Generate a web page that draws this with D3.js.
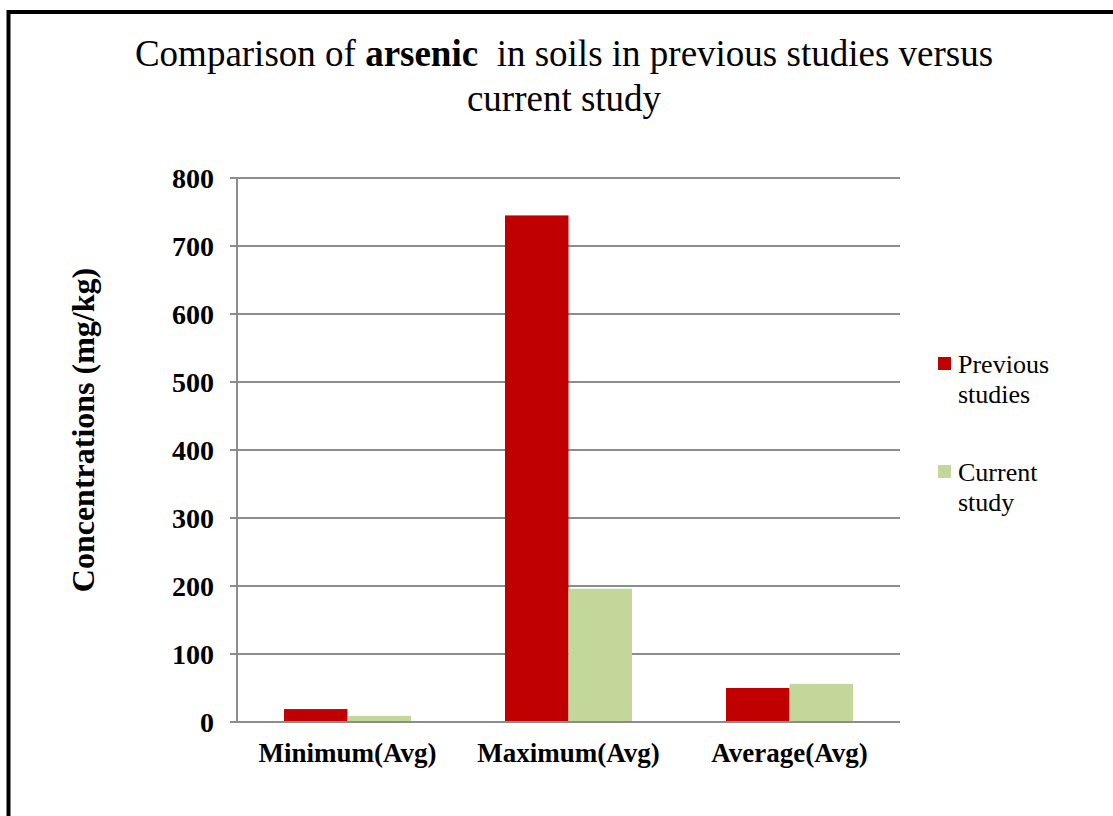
<!DOCTYPE html>
<html>
<head>
<meta charset="utf-8">
<script src="https://cdn.jsdelivr.net/npm/d3@7"></script>
<style>
  html, body { margin: 0; padding: 0; background: #fff; }
  svg { display: block; }
</style>
</head>
<body>
<svg id="chart" width="1113" height="816"></svg>
<script>
// Arsenic concentrations in soils (mg/kg)
const categories = ["Minimum(Avg)", "Maximum(Avg)", "Average(Avg)"];
const seriesNames = ["Previous studies", "Current study"];
const previousStudies = [19, 745, 50];
const currentStudy = [9, 196, 56];
const yTicks = [0, 100, 200, 300, 400, 500, 600, 700, 800];

const colors = ["#C00000", "#C4D79B"];
const serif = "'Liberation Serif', 'Times New Roman', serif";

const svg = d3.select("#chart");

// outer frame
svg.append("rect")
  .attr("x", 8.5).attr("y", 12)
  .attr("width", 1200).attr("height", 900)
  .attr("fill", "none").attr("stroke", "#000").attr("stroke-width", 4);

// title
const title = svg.append("text")
  .attr("text-anchor", "middle")
  .attr("font-family", serif)
  .attr("font-size", 37)
  .attr("fill", "#000")
  .style("white-space", "pre");
const t1 = title.append("tspan").attr("x", 564).attr("y", 66);
t1.append("tspan").text("Comparison of ");
t1.append("tspan").attr("font-weight", "bold").text("arsenic");
t1.append("tspan").text("  in soils in previous studies versus");
title.append("tspan").attr("x", 564).attr("y", 111).text("current study");

const plot = { left: 237, right: 900, top: 178, bottom: 722 };

const x0 = d3.scaleBand().domain(categories).range([plot.left, plot.right]);
const x1 = d3.scaleBand().domain(seriesNames)
  .range([0, x0.bandwidth()]).paddingOuter(0.74).paddingInner(0);
const y = d3.scaleLinear().domain([0, 800]).range([plot.bottom, plot.top]);

// gridlines
svg.append("g").selectAll("line").data(yTicks).join("line")
  .attr("x1", plot.left - 7).attr("x2", plot.right)
  .attr("y1", d => y(d)).attr("y2", d => y(d))
  .attr("stroke", "#8c8c8c").attr("stroke-width", 2);

// y axis line
svg.append("line")
  .attr("x1", plot.left).attr("x2", plot.left)
  .attr("y1", plot.top).attr("y2", plot.bottom)
  .attr("stroke", "#8c8c8c").attr("stroke-width", 2);

// y tick labels
const yAxis = d3.axisLeft(y).tickValues(yTicks).tickSize(0).tickPadding(23);
const gy = svg.append("g").attr("transform", `translate(${plot.left},0)`).call(yAxis);
gy.select(".domain").remove();
gy.selectAll("text")
  .attr("font-family", serif).attr("font-size", 28).attr("font-weight", "bold")
  .attr("fill", "#000").attr("dy", "0.35em");

// bars
const data = categories.map((c, i) => ({
  cat: c,
  vals: [
    { s: seriesNames[0], v: previousStudies[i] },
    { s: seriesNames[1], v: currentStudy[i] }
  ]
}));
svg.append("g").selectAll("g").data(data).join("g")
  .attr("transform", d => `translate(${x0(d.cat)},0)`)
  .selectAll("rect").data(d => d.vals).join("rect")
  .attr("x", d => x1(d.s))
  .attr("width", x1.bandwidth())
  .attr("y", d => y(d.v))
  .attr("height", d => y(0) - y(d.v))
  .attr("fill", (d, i) => colors[i]);

// baseline redrawn on top of bars
svg.append("line")
  .attr("x1", plot.left - 7).attr("x2", plot.right)
  .attr("y1", y(0)).attr("y2", y(0))
  .attr("stroke", "#8c8c8c").attr("stroke-width", 2);

// category labels
const xAxis = d3.axisBottom(x0).tickSize(0).tickPadding(21);
const gx = svg.append("g").attr("transform", `translate(0,${plot.bottom})`).call(xAxis);
gx.select(".domain").remove();
gx.selectAll("text")
  .attr("font-family", serif).attr("font-size", 27).attr("font-weight", "bold")
  .attr("fill", "#000");

// y axis title
svg.append("text")
  .attr("transform", "translate(94,430) rotate(-90)")
  .attr("text-anchor", "middle")
  .attr("font-family", serif).attr("font-size", 32).attr("font-weight", "bold")
  .attr("fill", "#000")
  .text("Concentrations (mg/kg)");

// legend
const legendLines = [["Previous", "studies"], ["Current", "study"]];
const legend = svg.append("g").selectAll("g").data(seriesNames).join("g")
  .attr("transform", (d, i) => `translate(938,${357 + i * 108})`);
legend.append("rect")
  .attr("width", 13).attr("height", 13)
  .attr("fill", (d, i) => colors[i]);
legend.append("text")
  .attr("font-family", serif).attr("font-size", 26).attr("fill", "#000")
  .selectAll("tspan").data((d, i) => legendLines[i]).join("tspan")
  .attr("x", 20).attr("y", (d, j) => 16 + j * 30)
  .text(d => d);
</script>
</body>
</html>
